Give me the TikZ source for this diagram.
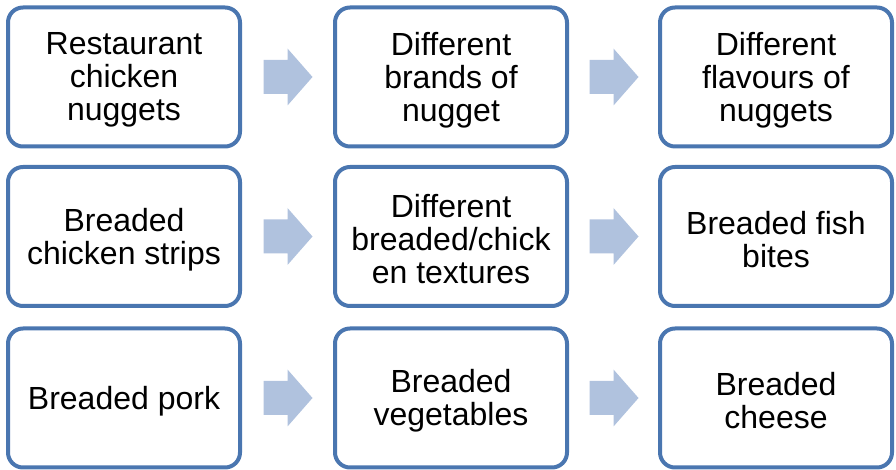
\documentclass[tikz,border=0pt]{standalone}
\usepackage{fontspec}
\setmainfont{Liberation Sans}
\usetikzlibrary{calc}
\definecolor{boxblue}{HTML}{4A76B0}
\definecolor{arrowblue}{HTML}{B0C2DE}
\begin{document}
\begin{tikzpicture}[x=1pt,y=1pt,
  stepbox/.style={draw=boxblue, line width=4pt, fill=white, rounded corners=15pt,
    minimum width=232pt, minimum height=139pt, inner sep=0pt},
  boxtext/.style={align=center, inner sep=0pt, font=\fontsize{32}{33}\selectfont}]
\useasboundingbox (0,0) rectangle (896,470);
\node[stepbox] (a1) at (124,393) {};
\node[stepbox] (a2) at (451,393) {};
\node[stepbox] (a3) at (776,393) {};
\node[stepbox] (b1) at (124,233.5) {};
\node[stepbox] (b2) at (451,233.5) {};
\node[stepbox] (b3) at (776,233.5) {};
\node[stepbox] (c1) at (124,72) {};
\node[stepbox] (c2) at (451,72) {};
\node[stepbox] (c3) at (776,72) {};
\node[boxtext] (ta1) at ([yshift=-3pt]a1.center) {Restaurant\\chicken\\nuggets};
\node[boxtext] (ta2) at ([yshift=-3pt]a2.center) {Different\\brands of\\nugget};
\node[boxtext] (ta3) at ([yshift=-3pt]a3.center) {Different\\flavours of\\nuggets};
\node[boxtext] (tb1) at ([yshift=-3pt]b1.center) {Breaded\\chicken strips};
\node[boxtext] (tb2) at ([yshift=-3pt]b2.center) {Different\\breaded/chick\\en textures};
\node[boxtext] (tb3) at ([yshift=-3pt]b3.center) {Breaded fish\\bites};
\node[boxtext] (tc1) at ([yshift=-3pt]c1.center) {Breaded pork};
\node[boxtext] (tc2) at ([yshift=-3pt]c2.center) {Breaded\\vegetables};
\node[boxtext] (tc3) at ([yshift=-3pt]c3.center) {Breaded\\cheese};
\foreach \l/\r in {a1/a2,a2/a3,b1/b2,b2/b3,c1/c2,c2/c3}{
  \coordinate (m\l) at ($(\l.east)!0.5!(\r.west)$);
  \fill[arrowblue] ($(m\l)+(-24,-17)$) -- ($(m\l)+(0,-17)$) -- ($(m\l)+(0,-28.5)$)
    -- ($(m\l)+(25,0)$) -- ($(m\l)+(0,28.5)$) -- ($(m\l)+(0,17)$)
    -- ($(m\l)+(-24,17)$) -- cycle;
}
\end{tikzpicture}
\end{document}
